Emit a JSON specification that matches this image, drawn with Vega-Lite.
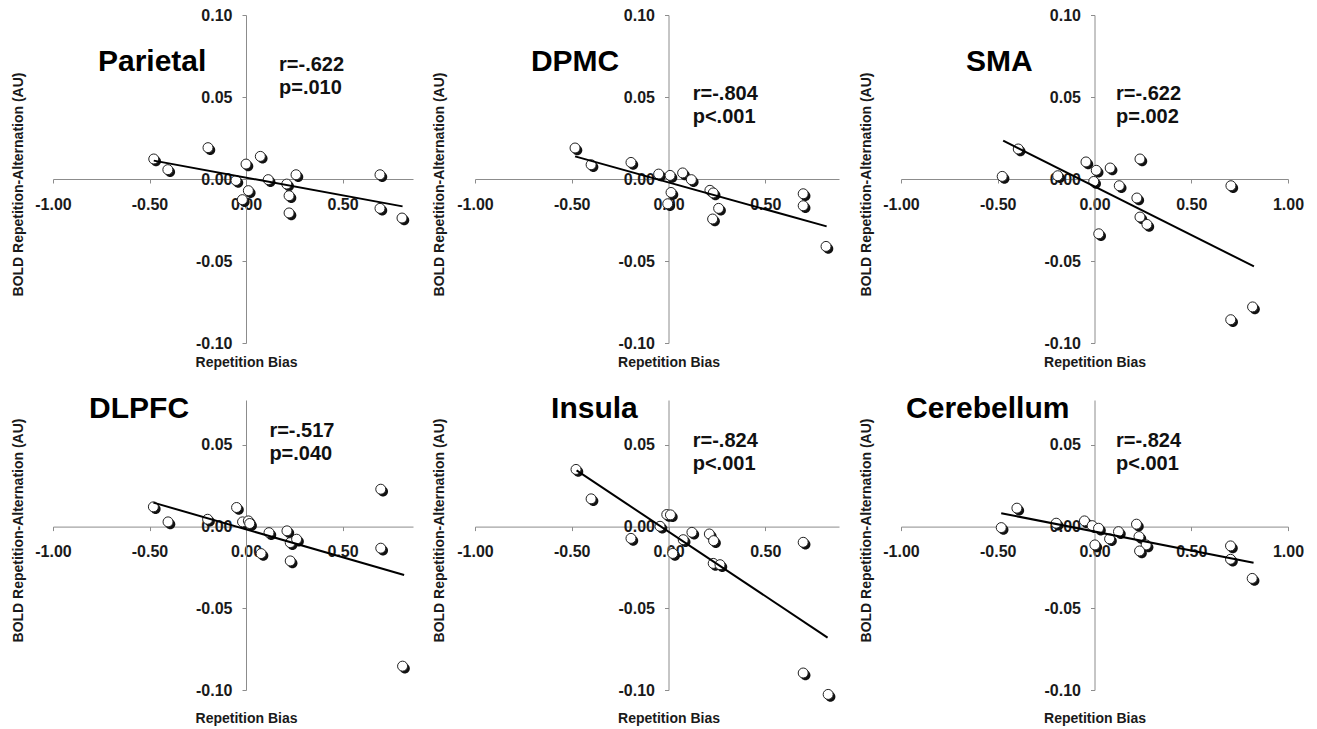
{
"$schema": "https://vega.github.io/schema/vega-lite/v6.json",
"background": "white",
"padding": {"left": 10, "top": 7, "right": 5, "bottom": 0},
"config": {
  "view": {"stroke": null},
  "axis": {"domainColor": "#8c8c8c", "tickColor": "#8c8c8c", "tickSize": 4, "grid": false,
    "labelFont": "Liberation Sans", "labelFontSize": 16, "labelFontWeight": "bold", "labelColor": "#1a1a1a",
    "titleFont": "Liberation Sans", "titleFontSize": 14, "titleFontWeight": "bold", "titleColor": "#1a1a1a",
    "labelOverlap": false, "labelFlush": false,
    "labelExpr": "datum.value < 0 ? '-' + format(-datum.value, '.2f') : format(datum.value, '.2f')"},
  "axisX": {"labelPadding": 13, "titleBaseline": "middle", "titleAlign": "center"},
  "axisY": {"labelPadding": 10, "titleBaseline": "middle", "titleAlign": "center", "titleAngle": -90}
},
"datasets": {
  "pts": [
    {"region":"Parietal","bias":-0.478,"bold":0.0122},{"region":"Parietal","bias":-0.405,"bold":0.0057},{"region":"Parietal","bias":-0.197,"bold":0.0191},{"region":"Parietal","bias":-0.052,"bold":-0.0009},{"region":"Parietal","bias":-0.019,"bold":-0.0126},{"region":"Parietal","bias":0.000,"bold":0.0091},{"region":"Parietal","bias":0.012,"bold":-0.0071},{"region":"Parietal","bias":0.074,"bold":0.0138},{"region":"Parietal","bias":0.115,"bold":-0.0004},{"region":"Parietal","bias":0.211,"bold":-0.0031},{"region":"Parietal","bias":0.223,"bold":-0.0102},{"region":"Parietal","bias":0.223,"bold":-0.0207},{"region":"Parietal","bias":0.259,"bold":0.0026},{"region":"Parietal","bias":0.694,"bold":0.0026},{"region":"Parietal","bias":0.694,"bold":-0.0179},{"region":"Parietal","bias":0.808,"bold":-0.0238},
    {"region":"DPMC","bias":-0.483,"bold":0.0189},{"region":"DPMC","bias":-0.400,"bold":0.0087},{"region":"DPMC","bias":-0.194,"bold":0.0101},{"region":"DPMC","bias":-0.051,"bold":0.0030},{"region":"DPMC","bias":0.008,"bold":0.0022},{"region":"DPMC","bias":0.073,"bold":0.0037},{"region":"DPMC","bias":0.118,"bold":-0.0004},{"region":"DPMC","bias":0.013,"bold":-0.0082},{"region":"DPMC","bias":-0.004,"bold":-0.0151},{"region":"DPMC","bias":0.214,"bold":-0.0069},{"region":"DPMC","bias":0.231,"bold":-0.0085},{"region":"DPMC","bias":0.259,"bold":-0.0179},{"region":"DPMC","bias":0.228,"bold":-0.0244},{"region":"DPMC","bias":0.696,"bold":-0.0090},{"region":"DPMC","bias":0.696,"bold":-0.0163},{"region":"DPMC","bias":0.814,"bold":-0.0411},
    {"region":"SMA","bias":-0.477,"bold":0.0016},{"region":"SMA","bias":-0.394,"bold":0.0183},{"region":"SMA","bias":-0.190,"bold":0.0020},{"region":"SMA","bias":-0.044,"bold":0.0104},{"region":"SMA","bias":0.009,"bold":0.0053},{"region":"SMA","bias":-0.004,"bold":-0.0015},{"region":"SMA","bias":0.081,"bold":0.0067},{"region":"SMA","bias":0.235,"bold":0.0122},{"region":"SMA","bias":0.128,"bold":-0.0041},{"region":"SMA","bias":0.219,"bold":-0.0116},{"region":"SMA","bias":0.235,"bold":-0.0232},{"region":"SMA","bias":0.271,"bold":-0.0277},{"region":"SMA","bias":0.022,"bold":-0.0334},{"region":"SMA","bias":0.705,"bold":-0.0041},{"region":"SMA","bias":0.817,"bold":-0.0780},{"region":"SMA","bias":0.704,"bold":-0.0858},
    {"region":"DLPFC","bias":-0.480,"bold":0.0121},{"region":"DLPFC","bias":-0.404,"bold":0.0029},{"region":"DLPFC","bias":-0.199,"bold":0.0045},{"region":"DLPFC","bias":-0.049,"bold":0.0117},{"region":"DLPFC","bias":-0.018,"bold":0.0029},{"region":"DLPFC","bias":0.012,"bold":0.0035},{"region":"DLPFC","bias":0.019,"bold":0.0019},{"region":"DLPFC","bias":0.078,"bold":-0.0165},{"region":"DLPFC","bias":0.119,"bold":-0.0037},{"region":"DLPFC","bias":0.212,"bold":-0.0026},{"region":"DLPFC","bias":0.229,"bold":-0.0098},{"region":"DLPFC","bias":0.262,"bold":-0.0077},{"region":"DLPFC","bias":0.229,"bold":-0.0210},{"region":"DLPFC","bias":0.698,"bold":0.0229},{"region":"DLPFC","bias":0.698,"bold":-0.0132},{"region":"DLPFC","bias":0.811,"bold":-0.0854},
    {"region":"Insula","bias":-0.478,"bold":0.0350},{"region":"Insula","bias":-0.400,"bold":0.0170},{"region":"Insula","bias":-0.194,"bold":-0.0072},{"region":"Insula","bias":-0.044,"bold":0.0002},{"region":"Insula","bias":-0.009,"bold":0.0074},{"region":"Insula","bias":0.010,"bold":0.0072},{"region":"Insula","bias":0.022,"bold":-0.0164},{"region":"Insula","bias":0.076,"bold":-0.0080},{"region":"Insula","bias":0.121,"bold":-0.0035},{"region":"Insula","bias":0.211,"bold":-0.0045},{"region":"Insula","bias":0.233,"bold":-0.0086},{"region":"Insula","bias":0.231,"bold":-0.0225},{"region":"Insula","bias":0.266,"bold":-0.0233},{"region":"Insula","bias":0.696,"bold":-0.0096},{"region":"Insula","bias":0.696,"bold":-0.0896},{"region":"Insula","bias":0.825,"bold":-0.1027},
    {"region":"Cerebellum","bias":-0.482,"bold":-0.0006},{"region":"Cerebellum","bias":-0.401,"bold":0.0113},{"region":"Cerebellum","bias":-0.198,"bold":0.0021},{"region":"Cerebellum","bias":-0.052,"bold":0.0035},{"region":"Cerebellum","bias":-0.012,"bold":0.0006},{"region":"Cerebellum","bias":0.021,"bold":-0.0010},{"region":"Cerebellum","bias":0.002,"bold":-0.0112},{"region":"Cerebellum","bias":0.078,"bold":-0.0075},{"region":"Cerebellum","bias":0.124,"bold":-0.0031},{"region":"Cerebellum","bias":0.217,"bold":0.0015},{"region":"Cerebellum","bias":0.230,"bold":-0.0061},{"region":"Cerebellum","bias":0.267,"bold":-0.0112},{"region":"Cerebellum","bias":0.233,"bold":-0.0149},{"region":"Cerebellum","bias":0.703,"bold":-0.0118},{"region":"Cerebellum","bias":0.703,"bold":-0.0200},{"region":"Cerebellum","bias":0.815,"bold":-0.0317}
  ],
  "fits": [
    {"region":"Parietal","bias":-0.478,"bold":0.0112},{"region":"Parietal","bias":0.811,"bold":-0.0167},
    {"region":"DPMC","bias":-0.483,"bold":0.0138},{"region":"DPMC","bias":0.817,"bold":-0.0289},
    {"region":"SMA","bias":-0.472,"bold":0.0234},{"region":"SMA","bias":0.824,"bold":-0.0533},
    {"region":"DLPFC","bias":-0.480,"bold":0.0147},{"region":"DLPFC","bias":0.819,"bold":-0.0296},
    {"region":"Insula","bias":-0.475,"bold":0.0344},{"region":"Insula","bias":0.822,"bold":-0.0679},
    {"region":"Cerebellum","bias":-0.482,"bold":0.0082},{"region":"Cerebellum","bias":0.822,"bold":-0.0221}
  ],
  "labels": [
    {"region":"Parietal","kind":"title","bias":-0.767,"bold":0.0659,"text":"Parietal"},
    {"region":"Parietal","kind":"stat","bias":0.171,"bold":0.0659,"text":"r=-.622"},
    {"region":"Parietal","kind":"stat","bias":0.171,"bold":0.0516,"text":"p=.010"},
    {"region":"DPMC","kind":"title","bias":-0.711,"bold":0.0659,"text":"DPMC"},
    {"region":"DPMC","kind":"stat","bias":0.125,"bold":0.0482,"text":"r=-.804"},
    {"region":"DPMC","kind":"stat","bias":0.125,"bold":0.0340,"text":"p<.001"},
    {"region":"SMA","kind":"title","bias":-0.664,"bold":0.0659,"text":"SMA"},
    {"region":"SMA","kind":"stat","bias":0.111,"bold":0.0482,"text":"r=-.622"},
    {"region":"SMA","kind":"stat","bias":0.111,"bold":0.0340,"text":"p=.002"},
    {"region":"DLPFC","kind":"title","bias":-0.813,"bold":0.0665,"text":"DLPFC"},
    {"region":"DLPFC","kind":"stat","bias":0.121,"bold":0.0550,"text":"r=-.517"},
    {"region":"DLPFC","kind":"stat","bias":0.121,"bold":0.0408,"text":"p=.040"},
    {"region":"Insula","kind":"title","bias":-0.607,"bold":0.0665,"text":"Insula"},
    {"region":"Insula","kind":"stat","bias":0.125,"bold":0.0489,"text":"r=-.824"},
    {"region":"Insula","kind":"stat","bias":0.125,"bold":0.0347,"text":"p<.001"},
    {"region":"Cerebellum","kind":"title","bias":-0.974,"bold":0.0665,"text":"Cerebellum"},
    {"region":"Cerebellum","kind":"stat","bias":0.111,"bold":0.0489,"text":"r=-.824"},
    {"region":"Cerebellum","kind":"stat","bias":0.111,"bold":0.0347,"text":"p<.001"}
  ]
},
"columns": 3,
"spacing": {"column": 62, "row": 57},
"bounds": "flush",
"concat": [
  {"width": 360, "height": 328,
   "encoding": {
     "x": {"field": "bias", "type": "quantitative", "scale": {"domain": [-1, 0.865], "nice": false, "zero": false},
           "axis": {"values": [-1, -0.5, 0, 0.5], "offset": -164, "title": "Repetition Bias", "titleX": 193, "titleY": 183}},
     "y": {"field": "bold", "type": "quantitative", "scale": {"domain": [-0.1, 0.1], "nice": false, "zero": false},
           "axis": {"values": [-0.1, -0.05, 0, 0.05, 0.1], "offset": -193, "title": "BOLD Repetition-Alternation (AU)", "titleX": -228, "titleY": 169}}},
   "layer": [
     {"data": {"name": "pts"}, "transform": [{"filter": "datum.region === 'Parietal'"}], "mark": {"type": "point", "shape": "M 1.45 0.45 A 1 1 0 1 1 -0.55 0.45 A 1 1 0 1 1 1.45 0.45 Z", "filled": true, "fill": "#111111", "strokeWidth": 0, "size": 100, "opacity": 1}},
     {"data": {"name": "pts"}, "transform": [{"filter": "datum.region === 'Parietal'"}], "mark": {"type": "point", "shape": "circle", "filled": true, "fill": "white", "stroke": "#222222", "strokeWidth": 1, "size": 100, "opacity": 1}},
     {"data": {"name": "fits"}, "transform": [{"filter": "datum.region === 'Parietal'"}], "mark": {"type": "line", "color": "black", "strokeWidth": 2}, "encoding": {}},
     {"data": {"name": "labels"}, "transform": [{"filter": "datum.region === 'Parietal' && datum.kind === 'title'"}], "mark": {"type": "text", "align": "left", "baseline": "alphabetic", "font": "Liberation Sans", "fontWeight": "bold", "fontSize": 30, "color": "black"}, "encoding": {"text": {"field": "text"}}},
     {"data": {"name": "labels"}, "transform": [{"filter": "datum.region === 'Parietal' && datum.kind === 'stat'"}], "mark": {"type": "text", "align": "left", "baseline": "alphabetic", "font": "Liberation Sans", "fontWeight": "bold", "fontSize": 20, "color": "#111111"}, "encoding": {"text": {"field": "text"}}}
   ]},
  {"width": 364, "height": 328,
   "encoding": {
     "x": {"field": "bias", "type": "quantitative", "scale": {"domain": [-1, 0.881], "nice": false, "zero": false},
           "axis": {"values": [-1, -0.5, 0, 0.5], "offset": -164, "title": "Repetition Bias", "titleX": 193.5, "titleY": 183}},
     "y": {"field": "bold", "type": "quantitative", "scale": {"domain": [-0.1, 0.1], "nice": false, "zero": false},
           "axis": {"values": [-0.1, -0.05, 0, 0.05, 0.1], "offset": -193.5, "title": "BOLD Repetition-Alternation (AU)", "titleX": -229, "titleY": 169}}},
   "layer": [
     {"data": {"name": "pts"}, "transform": [{"filter": "datum.region === 'DPMC'"}], "mark": {"type": "point", "shape": "M 1.45 0.45 A 1 1 0 1 1 -0.55 0.45 A 1 1 0 1 1 1.45 0.45 Z", "filled": true, "fill": "#111111", "strokeWidth": 0, "size": 100, "opacity": 1}},
     {"data": {"name": "pts"}, "transform": [{"filter": "datum.region === 'DPMC'"}], "mark": {"type": "point", "shape": "circle", "filled": true, "fill": "white", "stroke": "#222222", "strokeWidth": 1, "size": 100, "opacity": 1}},
     {"data": {"name": "fits"}, "transform": [{"filter": "datum.region === 'DPMC'"}], "mark": {"type": "line", "color": "black", "strokeWidth": 2}, "encoding": {}},
     {"data": {"name": "labels"}, "transform": [{"filter": "datum.region === 'DPMC' && datum.kind === 'title'"}], "mark": {"type": "text", "align": "left", "baseline": "alphabetic", "font": "Liberation Sans", "fontWeight": "bold", "fontSize": 30, "color": "black"}, "encoding": {"text": {"field": "text"}}},
     {"data": {"name": "labels"}, "transform": [{"filter": "datum.region === 'DPMC' && datum.kind === 'stat'"}], "mark": {"type": "text", "align": "left", "baseline": "alphabetic", "font": "Liberation Sans", "fontWeight": "bold", "fontSize": 20, "color": "#111111"}, "encoding": {"text": {"field": "text"}}}
   ]},
  {"width": 387, "height": 328,
   "encoding": {
     "x": {"field": "bias", "type": "quantitative", "scale": {"domain": [-1, 1], "nice": false, "zero": false},
           "axis": {"values": [-1, -0.5, 0, 0.5, 1], "offset": -164, "title": "Repetition Bias", "titleX": 193.5, "titleY": 183}},
     "y": {"field": "bold", "type": "quantitative", "scale": {"domain": [-0.1, 0.1], "nice": false, "zero": false},
           "axis": {"values": [-0.1, -0.05, 0, 0.05, 0.1], "offset": -193.5, "title": "BOLD Repetition-Alternation (AU)", "titleX": -228, "titleY": 169}}},
   "layer": [
     {"data": {"name": "pts"}, "transform": [{"filter": "datum.region === 'SMA'"}], "mark": {"type": "point", "shape": "M 1.45 0.45 A 1 1 0 1 1 -0.55 0.45 A 1 1 0 1 1 1.45 0.45 Z", "filled": true, "fill": "#111111", "strokeWidth": 0, "size": 100, "opacity": 1}},
     {"data": {"name": "pts"}, "transform": [{"filter": "datum.region === 'SMA'"}], "mark": {"type": "point", "shape": "circle", "filled": true, "fill": "white", "stroke": "#222222", "strokeWidth": 1, "size": 100, "opacity": 1}},
     {"data": {"name": "fits"}, "transform": [{"filter": "datum.region === 'SMA'"}], "mark": {"type": "line", "color": "black", "strokeWidth": 2}, "encoding": {}},
     {"data": {"name": "labels"}, "transform": [{"filter": "datum.region === 'SMA' && datum.kind === 'title'"}], "mark": {"type": "text", "align": "left", "baseline": "alphabetic", "font": "Liberation Sans", "fontWeight": "bold", "fontSize": 30, "color": "black"}, "encoding": {"text": {"field": "text"}}},
     {"data": {"name": "labels"}, "transform": [{"filter": "datum.region === 'SMA' && datum.kind === 'stat'"}], "mark": {"type": "text", "align": "left", "baseline": "alphabetic", "font": "Liberation Sans", "fontWeight": "bold", "fontSize": 20, "color": "#111111"}, "encoding": {"text": {"field": "text"}}}
   ]},
  {"width": 360, "height": 290,
   "encoding": {
     "x": {"field": "bias", "type": "quantitative", "scale": {"domain": [-1, 0.865], "nice": false, "zero": false},
           "axis": {"values": [-1, -0.5, 0, 0.5], "offset": -163.4, "title": "Repetition Bias", "titleX": 193, "titleY": 191.5}},
     "y": {"field": "bold", "type": "quantitative", "scale": {"domain": [-0.1, 0.0775], "nice": false, "zero": false},
           "axis": {"values": [-0.1, -0.05, 0, 0.05], "offset": -193, "title": "BOLD Repetition-Alternation (AU)", "titleX": -228, "titleY": 130}}},
   "layer": [
     {"data": {"name": "pts"}, "transform": [{"filter": "datum.region === 'DLPFC'"}], "mark": {"type": "point", "shape": "M 1.45 0.45 A 1 1 0 1 1 -0.55 0.45 A 1 1 0 1 1 1.45 0.45 Z", "filled": true, "fill": "#111111", "strokeWidth": 0, "size": 100, "opacity": 1}},
     {"data": {"name": "pts"}, "transform": [{"filter": "datum.region === 'DLPFC'"}], "mark": {"type": "point", "shape": "circle", "filled": true, "fill": "white", "stroke": "#222222", "strokeWidth": 1, "size": 100, "opacity": 1}},
     {"data": {"name": "fits"}, "transform": [{"filter": "datum.region === 'DLPFC'"}], "mark": {"type": "line", "color": "black", "strokeWidth": 2}, "encoding": {}},
     {"data": {"name": "labels"}, "transform": [{"filter": "datum.region === 'DLPFC' && datum.kind === 'title'"}], "mark": {"type": "text", "align": "left", "baseline": "alphabetic", "font": "Liberation Sans", "fontWeight": "bold", "fontSize": 30, "color": "black"}, "encoding": {"text": {"field": "text"}}},
     {"data": {"name": "labels"}, "transform": [{"filter": "datum.region === 'DLPFC' && datum.kind === 'stat'"}], "mark": {"type": "text", "align": "left", "baseline": "alphabetic", "font": "Liberation Sans", "fontWeight": "bold", "fontSize": 20, "color": "#111111"}, "encoding": {"text": {"field": "text"}}}
   ]},
  {"width": 364, "height": 290,
   "encoding": {
     "x": {"field": "bias", "type": "quantitative", "scale": {"domain": [-1, 0.881], "nice": false, "zero": false},
           "axis": {"values": [-1, -0.5, 0, 0.5], "offset": -163.4, "title": "Repetition Bias", "titleX": 193.5, "titleY": 191.5}},
     "y": {"field": "bold", "type": "quantitative", "scale": {"domain": [-0.1, 0.0775], "nice": false, "zero": false},
           "axis": {"values": [-0.1, -0.05, 0, 0.05], "offset": -193.5, "title": "BOLD Repetition-Alternation (AU)", "titleX": -229, "titleY": 130}}},
   "layer": [
     {"data": {"name": "pts"}, "transform": [{"filter": "datum.region === 'Insula'"}], "mark": {"type": "point", "shape": "M 1.45 0.45 A 1 1 0 1 1 -0.55 0.45 A 1 1 0 1 1 1.45 0.45 Z", "filled": true, "fill": "#111111", "strokeWidth": 0, "size": 100, "opacity": 1}},
     {"data": {"name": "pts"}, "transform": [{"filter": "datum.region === 'Insula'"}], "mark": {"type": "point", "shape": "circle", "filled": true, "fill": "white", "stroke": "#222222", "strokeWidth": 1, "size": 100, "opacity": 1}},
     {"data": {"name": "fits"}, "transform": [{"filter": "datum.region === 'Insula'"}], "mark": {"type": "line", "color": "black", "strokeWidth": 2}, "encoding": {}},
     {"data": {"name": "labels"}, "transform": [{"filter": "datum.region === 'Insula' && datum.kind === 'title'"}], "mark": {"type": "text", "align": "left", "baseline": "alphabetic", "font": "Liberation Sans", "fontWeight": "bold", "fontSize": 30, "color": "black"}, "encoding": {"text": {"field": "text"}}},
     {"data": {"name": "labels"}, "transform": [{"filter": "datum.region === 'Insula' && datum.kind === 'stat'"}], "mark": {"type": "text", "align": "left", "baseline": "alphabetic", "font": "Liberation Sans", "fontWeight": "bold", "fontSize": 20, "color": "#111111"}, "encoding": {"text": {"field": "text"}}}
   ]},
  {"width": 387, "height": 290,
   "encoding": {
     "x": {"field": "bias", "type": "quantitative", "scale": {"domain": [-1, 1], "nice": false, "zero": false},
           "axis": {"values": [-1, -0.5, 0, 0.5, 1], "offset": -163.4, "title": "Repetition Bias", "titleX": 193.5, "titleY": 191.5}},
     "y": {"field": "bold", "type": "quantitative", "scale": {"domain": [-0.1, 0.0775], "nice": false, "zero": false},
           "axis": {"values": [-0.1, -0.05, 0, 0.05], "offset": -193.5, "title": "BOLD Repetition-Alternation (AU)", "titleX": -228, "titleY": 130}}},
   "layer": [
     {"data": {"name": "pts"}, "transform": [{"filter": "datum.region === 'Cerebellum'"}], "mark": {"type": "point", "shape": "M 1.45 0.45 A 1 1 0 1 1 -0.55 0.45 A 1 1 0 1 1 1.45 0.45 Z", "filled": true, "fill": "#111111", "strokeWidth": 0, "size": 100, "opacity": 1}},
     {"data": {"name": "pts"}, "transform": [{"filter": "datum.region === 'Cerebellum'"}], "mark": {"type": "point", "shape": "circle", "filled": true, "fill": "white", "stroke": "#222222", "strokeWidth": 1, "size": 100, "opacity": 1}},
     {"data": {"name": "fits"}, "transform": [{"filter": "datum.region === 'Cerebellum'"}], "mark": {"type": "line", "color": "black", "strokeWidth": 2}, "encoding": {}},
     {"data": {"name": "labels"}, "transform": [{"filter": "datum.region === 'Cerebellum' && datum.kind === 'title'"}], "mark": {"type": "text", "align": "left", "baseline": "alphabetic", "font": "Liberation Sans", "fontWeight": "bold", "fontSize": 30, "color": "black"}, "encoding": {"text": {"field": "text"}}},
     {"data": {"name": "labels"}, "transform": [{"filter": "datum.region === 'Cerebellum' && datum.kind === 'stat'"}], "mark": {"type": "text", "align": "left", "baseline": "alphabetic", "font": "Liberation Sans", "fontWeight": "bold", "fontSize": 20, "color": "#111111"}, "encoding": {"text": {"field": "text"}}}
   ]}
]
}
